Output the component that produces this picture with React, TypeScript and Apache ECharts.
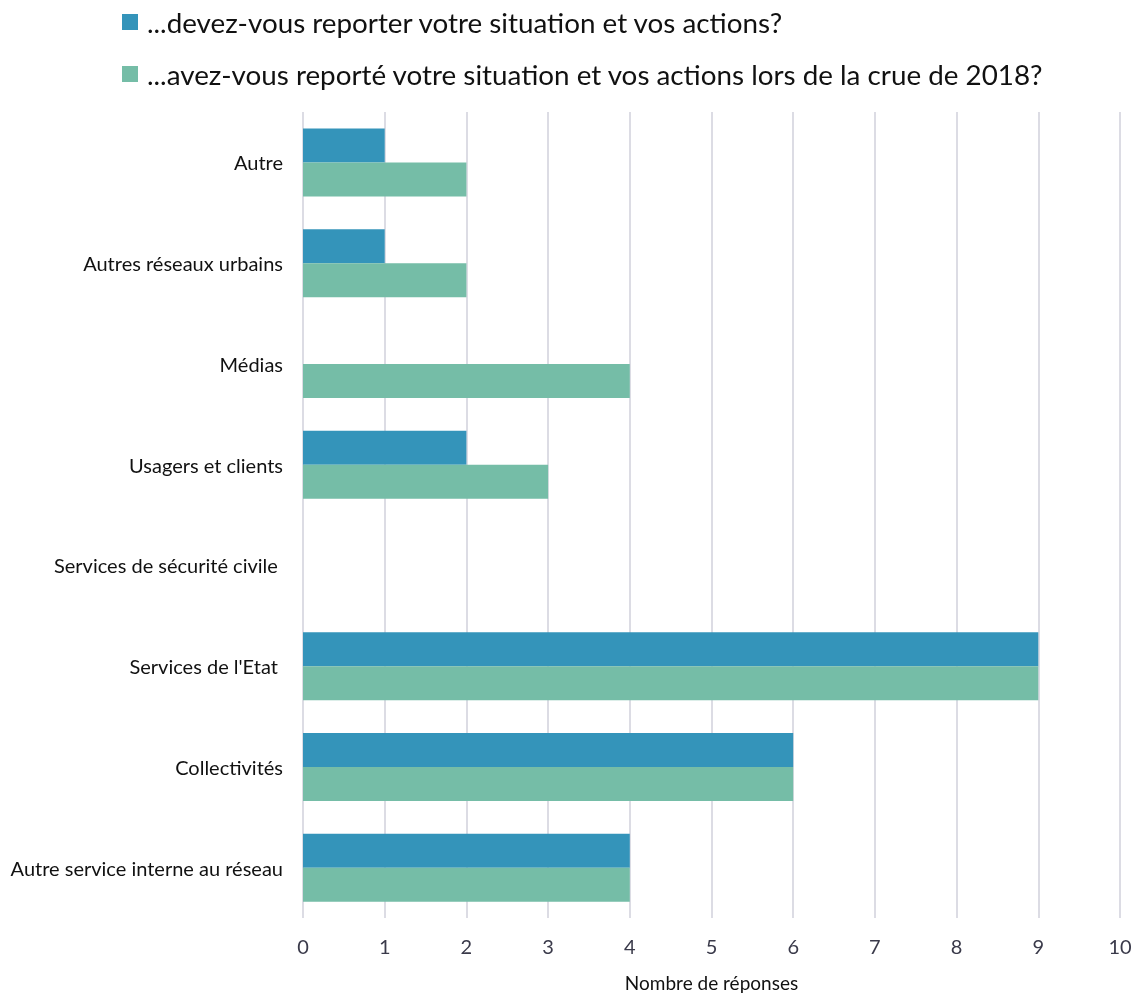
import React, { useEffect, useRef } from "react";
import * as echarts from "echarts";

const categories = [
  "Autre service interne au réseau",
  "Collectivités",
  "Services de l'Etat ",
  "Services de sécurité civile ",
  "Usagers et clients",
  "Médias",
  "Autres réseaux urbains",
  "Autre",
];
const seriesNames = [
  "...devez-vous reporter votre situation et vos actions?",
  "...avez-vous reporté votre situation et vos actions lors de la crue de 2018?",
];
const devezValues = [4, 6, 9, 0, 2, 0, 1, 1];
const avezValues = [4, 6, 9, 0, 3, 4, 2, 2];
const xTicks = [0, 10, 1];

const FONT = "Lato, 'Open Sans', sans-serif";

export default function App() {
  const ref = useRef<HTMLDivElement>(null);
  useEffect(() => {
    if (!ref.current) return;
    const chart = echarts.init(ref.current, undefined, { renderer: "svg" });
    chart.setOption({
      animation: false,
      textStyle: { fontFamily: FONT },
      legend: {
        orient: "vertical",
        left: 122,
        top: 8,
        padding: 0,
        itemWidth: 16,
        itemHeight: 16,
        itemGap: 24,
        icon: "rect",
        textStyle: { fontSize: 27.8, color: "#111", fontFamily: FONT, padding: [0, 0, 0, 4] },
        data: seriesNames,
      },
      grid: {
        left: 303,
        right: 22,
        top: 112,
        bottom: 80,
        containLabel: false,
        outerBoundsMode: "none",
      },
      xAxis: {
        type: "value",
        min: xTicks[0],
        max: xTicks[1],
        interval: xTicks[2],
        axisLine: { show: false },
        axisTick: { show: false },
        splitLine: { show: true, lineStyle: { color: "#dcdce4", width: 2 } },
        axisLabel: { fontSize: 20, color: "#3a3a4a", margin: 18, fontFamily: FONT },
        name: "Nombre de réponses",
        nameLocation: "middle",
        nameGap: 55,
        nameTextStyle: { fontSize: 19, color: "#111", fontFamily: FONT },
      },
      yAxis: {
        type: "category",
        data: categories,
        axisLine: { show: false },
        axisTick: { show: false },
        axisLabel: { fontSize: 20, color: "#111", margin: 20, fontFamily: FONT },
      },
      series: [
        {
          name: seriesNames[0],
          type: "bar",
          data: devezValues,
          barWidth: 34,
          barGap: "0%",
          itemStyle: { color: "#3494BA" },
        },
        {
          name: seriesNames[1],
          type: "bar",
          data: avezValues,
          barWidth: 34,
          barGap: "0%",
          itemStyle: { color: "#75BDA7" },
        },
      ],
    });
    return () => chart.dispose();
  }, []);
  return (
    <div
      ref={ref}
      style={{ position: "fixed", left: 0, top: 0, width: 1142, height: 998 }}
    />
  );
}
